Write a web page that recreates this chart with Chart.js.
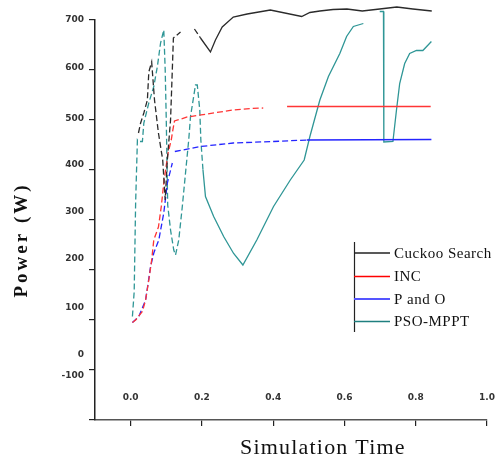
<!DOCTYPE html>
<html>
<head>
<meta charset="utf-8">
<script src="https://cdn.jsdelivr.net/npm/chart.js@4.4.0/dist/chart.umd.min.js"></script>
<style>
  body { margin: 0; background: #fff; }
</style>
</head>
<body>
<canvas id="powerChart" width="496" height="459"></canvas>
<script>
// values (time in s, power in W)
const cuckooT = [0.022, 0.028, 0.037, 0.047, 0.051, 0.059, 0.067, 0.078, 0.09, 0.097, 0.103, 0.112, 0.115, 0.12, 0.14, 0.16, 0.179, 0.196, 0.224, 0.238, 0.257, 0.288, 0.327, 0.392, 0.48, 0.503, 0.531, 0.568, 0.607, 0.65, 0.699, 0.747, 0.792, 0.845];
const cuckooP = [474, 494, 514, 540, 596, 616, 540, 474, 420, 340, 420, 500, 560, 664, 676, null, 682, 664, 636, 660, 686, 706, 712, 720, 707, 715, 718, 721, 722, 718, 722, 726, 722, 718];

const incT = [0.005, 0.014, 0.033, 0.042, 0.051, 0.059, 0.065, 0.078, 0.086, 0.093, 0.098, 0.105, 0.114, 0.117, 0.123, 0.159, 0.214, 0.288, 0.336, 0.372, 0.4, 0.439, 0.842];
const incP = [95, 100, 117, 140, 180, 220, 260, 286, 327, 374, 400, 434, 460, 474, 498, 506, 512, 520, 523, 524, null, 527, 527];

const poT = [0.005, 0.023, 0.042, 0.056, 0.065, 0.079, 0.093, 0.103, 0.117, 0.12, 0.124, 0.196, 0.288, 0.4, 0.494, 0.844];
const poP = [95, 107, 140, 207, 234, 260, 314, 374, 414, null, 437, 447, 454, 457, 460, 461];

const psoT = [0.005, 0.01, 0.014, 0.019, 0.022, 0.033, 0.037, 0.051, 0.065, 0.075, 0.084, 0.093, 0.097, 0.1, 0.104, 0.112, 0.121, 0.126, 0.135, 0.145, 0.154, 0.163, 0.168, 0.182, 0.187, 0.194, 0.197, 0.203, 0.21, 0.233, 0.261, 0.289, 0.315, 0.354, 0.401, 0.448, 0.487, 0.503, 0.531, 0.555, 0.587, 0.606, 0.625, 0.653, 0.68, 0.699, 0.7095, 0.7105, 0.736, 0.746, 0.755, 0.769, 0.783, 0.802, 0.82, 0.844];
const psoP = [107, 157, 334, 460, 457, 457, 494, 534, 567, 607, 654, 680, 600, 500, 330, 280, 240, 230, 260, 327, 394, 460, 507, 570, 570, 520, 460, 400, 347, 307, 267, 233, 210, 260, 327, 380, 420, 467, 540, 587, 633, 667, 687, 693, null, 717, 717, 456, 457, 520, 573, 613, 633, 639, 639, 657];

const seriesNames = ['Cuckoo Search', 'INC', 'P and O', 'PSO-MPPT'];
const xTicks = [0.0, 0.2, 0.4, 0.6, 0.8, 1.0];
const yTicks = [-100, 0, 100, 200, 300, 400, 500, 600, 700];

// label positions in the figure drift a bit from the tick marks
const yLabelShift = [-44, -15, -12, -11, -8, -5, -1, -2, 0];

const toPoints = (t, p) => t.map((x, i) => ({ x: x, y: p[i] }));

function dashBefore(limit) {
  return ctx => (ctx.p0.parsed.x < limit ? [6, 3] : undefined);
}

const lineColors = ['#2b2b2b', '#ff3535', '#2424ff', '#2f9696'];
const legendColors = ['#222', '#ff0000', '#5555ff', '#1f7f7f'];

const serif = '"Liberation Serif", "DejaVu Serif", serif';

const overlay = {
  id: 'overlay',
  afterDraw(chart) {
    const c = chart.ctx;
    const xs = chart.scales.x, ys = chart.scales.y;
    c.save();
    // tick labels
    c.fillStyle = '#333';
    c.font = 'bold 9px "DejaVu Sans", sans-serif';
    c.textAlign = 'right';
    c.textBaseline = 'middle';
    yTicks.forEach((v, i) => {
      c.fillText(String(v), 84, ys.getPixelForValue(v) + yLabelShift[i]);
    });
    c.textAlign = 'center';
    xTicks.forEach(v => {
      c.fillText(v.toFixed(1), xs.getPixelForValue(v), 398);
    });

    // axis titles
    c.fillStyle = '#111';
    c.font = '22px ' + serif;
    c.letterSpacing = '1.2px';
    c.textAlign = 'left';
    c.textBaseline = 'alphabetic';
    c.fillText('Simulation Time', 240, 454);

    c.save();
    c.translate(27, 240);
    c.rotate(-Math.PI / 2);
    c.font = 'bold 19px ' + serif;
    c.letterSpacing = '3px';
    c.textAlign = 'center';
    c.fillText('Power (W)', 0, 0);
    c.restore();

    // legend
    c.letterSpacing = '0.5px';
    c.strokeStyle = '#222';
    c.lineWidth = 1.2;
    c.beginPath();
    c.moveTo(354.5, 242);
    c.lineTo(354.5, 332);
    c.stroke();
    c.font = '15px ' + serif;
    c.textAlign = 'left';
    c.textBaseline = 'middle';
    const rows = [253, 276.5, 299, 321.5];
    seriesNames.forEach((name, i) => {
      c.strokeStyle = legendColors[i];
      c.lineWidth = i === 2 ? 2 : 1.3;
      c.beginPath();
      c.moveTo(354, rows[i]);
      c.lineTo(390, rows[i]);
      c.stroke();
      c.fillStyle = '#111';
      c.fillText(name, 394, rows[i] + 1);
    });
    c.restore();
  }
};

const axisStyle = {
  grid: { display: true, drawOnChartArea: false, drawTicks: true, tickLength: 6, color: '#222', lineWidth: 1.2 },
  border: { display: true, color: '#222', width: 1.5 },
  ticks: { display: false }
};

new Chart(document.getElementById('powerChart'), {
  type: 'line',
  data: {
    datasets: [
      { label: seriesNames[0], data: toPoints(cuckooT, cuckooP), borderColor: lineColors[0], segment: { borderDash: dashBefore(0.18) } },
      { label: seriesNames[1], data: toPoints(incT, incP), borderColor: lineColors[1], segment: { borderDash: dashBefore(0.38) } },
      { label: seriesNames[2], data: toPoints(poT, poP), borderColor: lineColors[2], segment: { borderDash: dashBefore(0.45) } },
      { label: seriesNames[3], data: toPoints(psoT, psoP), borderColor: lineColors[3], segment: { borderDash: dashBefore(0.2) } }
    ].map(d => Object.assign(d, { borderWidth: 1.3, pointRadius: 0, tension: 0, spanGaps: false, fill: false, clip: false }))
  },
  options: {
    responsive: false,
    animation: false,
    devicePixelRatio: 1,
    layout: { padding: { top: 20, right: 9, bottom: 0, left: 0 } },
    plugins: { legend: { display: false }, tooltip: { enabled: false } },
    scales: {
      x: Object.assign({
        type: 'linear', min: -0.1, max: 1.0,
        afterBuildTicks: s => { s.ticks = xTicks.map(v => ({ value: v })); },
        afterFit: s => { s.height = 39; }
      }, axisStyle, { border: { display: true, color: '#555', width: 1.5 } }),
      y: Object.assign({
        type: 'linear', min: -100, max: 700,
        afterBuildTicks: s => { s.ticks = yTicks.map(v => ({ value: v })); },
        afterFit: s => { s.width = 95; }
      }, axisStyle)
    }
  },
  plugins: [overlay]
});
</script>
</body>
</html>
